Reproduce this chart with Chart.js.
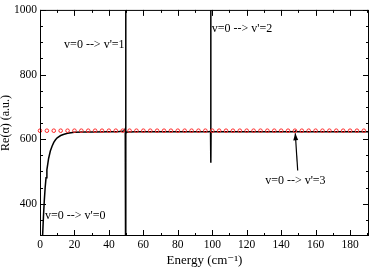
<!DOCTYPE html>
<html>
<head>
<meta charset="utf-8">
<script src="https://cdn.jsdelivr.net/npm/chart.js@4/dist/chart.umd.min.js"></script>
<style>
html,body{margin:0;padding:0;background:#fff;}
#wrap{width:374px;height:268px;}
</style>
</head>
<body>
<div id="wrap"><canvas id="c" width="374" height="268"></canvas></div>
<script>
// ---- data ----
const xTickLabels = [0, 20, 40, 60, 80, 100, 120, 140, 160, 180];
const yTickLabels = [400, 600, 800, 1000];

// computed Re(alpha) curve (black line)
const curveX = [1.2, 1.5, 2.0, 2.5, 3.0, 3.5, 4.0, 5.0, 6.0, 7.0, 8.0, 9.0, 10, 12, 14, 16, 18, 20, 25, 30, 40, 45, 48, 49, 49.5, 49.7, 49.78, 49.8, 49.81, 49.84, 49.9, 50.5, 52, 55, 60, 70, 80, 90, 95, 98, 99.0, 99.15, 99.2, 99.3, 100, 102, 110, 120, 130, 140, 145, 148, 148.5, 149, 152, 160, 170, 180, 190, 191];
const curveY = [250, 300, 360, 410, 450, 480, 505, 540, 563, 578, 590, 598, 604, 611, 615, 618, 620, 621, 622, 622, 623, 623, 624, 626, 632, 660, 700, 1400, 0, 600, 618, 622, 622, 623, 623, 623, 623, 623, 623, 623, 624, 1300, 527, 622, 623, 623, 623, 623, 623, 623, 623, 623, 625, 623, 623, 623, 623, 623, 623, 623];

// reference values (red open circles)
const circleX = [0, 4, 8, 12, 16, 20, 24, 28, 32, 36, 40, 44, 48, 52, 56, 60, 64, 68, 72, 76, 80, 84, 88, 92, 96, 100, 104, 108, 112, 116, 120, 124, 128, 132, 136, 140, 144, 148, 152, 156, 160, 164, 168, 172, 176, 180, 184, 188];
const circleY = [626, 626, 626, 626, 626, 626, 626, 626, 626, 626, 626, 626, 626, 626, 626, 626, 626, 626, 626, 626, 626, 626, 626, 626, 626, 626, 626, 626, 626, 626, 626, 626, 626, 626, 626, 626, 626, 626, 626, 626, 626, 626, 626, 626, 626, 626, 626, 626];

// annotation texts and their anchor (data coordinates)
const noteTexts = ["v=0 --> v'=1", "v=0 --> v'=2", "v=0 --> v'=0", "v=0 --> v'=3"];
const noteX = [14, 99.7, 2.9, 130.7];
const noteY = [891, 942, 361, 470];
// arrow (tail -> head), data coordinates
const arrowFrom = [149.6, 503];
const arrowTo = [148.2, 618];

const SERIF = '"Liberation Serif", "DejaVu Serif", serif';

const framePlugin = {
  id: 'frame',
  afterDatasetsDraw(chart) {
    const {ctx, chartArea: a, scales: {x, y}} = chart;
    ctx.save();
    ctx.strokeStyle = '#000';
    ctx.lineWidth = 1;
    ctx.strokeRect(a.left + 0.5, a.top + 0.5, a.right - a.left - 1, a.bottom - a.top - 1);
    ctx.beginPath();
    for (let v = 0; v <= 190; v += 10) {
      const px = Math.round(x.getPixelForValue(v)) + 0.5;
      const len = (v % 20 === 0) ? 6 : 3;
      ctx.moveTo(px, a.bottom); ctx.lineTo(px, a.bottom - len);
      ctx.moveTo(px, a.top); ctx.lineTo(px, a.top + len);
    }
    for (let v = 350; v <= 1000; v += 50) {
      const py = Math.round(y.getPixelForValue(v)) + 0.5;
      const len = (v % 200 === 0) ? 6 : 3;
      ctx.moveTo(a.left, py); ctx.lineTo(a.left + len, py);
      ctx.moveTo(a.right, py); ctx.lineTo(a.right - len, py);
    }
    ctx.stroke();

    ctx.fillStyle = '#000';
    ctx.font = '12px ' + SERIF;
    ctx.textAlign = 'left';
    ctx.textBaseline = 'middle';
    for (let i = 0; i < noteTexts.length; i++) {
      ctx.fillText(noteTexts[i], x.getPixelForValue(noteX[i]), y.getPixelForValue(noteY[i]));
    }
    const x1 = x.getPixelForValue(arrowFrom[0]), y1 = y.getPixelForValue(arrowFrom[1]);
    const x2 = x.getPixelForValue(arrowTo[0]), y2 = y.getPixelForValue(arrowTo[1]);
    ctx.beginPath();
    ctx.moveTo(x1, y1); ctx.lineTo(x2, y2);
    ctx.lineWidth = 1.2;
    ctx.stroke();
    const ang = Math.atan2(y2 - y1, x2 - x1);
    const hl = 7, hw = 2.5;
    ctx.beginPath();
    ctx.moveTo(x2, y2);
    ctx.lineTo(x2 - hl * Math.cos(ang) + hw * Math.sin(ang), y2 - hl * Math.sin(ang) - hw * Math.cos(ang));
    ctx.lineTo(x2 - hl * Math.cos(ang) - hw * Math.sin(ang), y2 - hl * Math.sin(ang) + hw * Math.cos(ang));
    ctx.closePath();
    ctx.fill();
    ctx.restore();
  }
};

new Chart(document.getElementById('c'), {
  type: 'line',
  data: {
    datasets: [
      {
        label: 'reference',
        data: circleX.map((v, i) => ({x: v, y: circleY[i]})),
        showLine: false,
        pointStyle: 'circle',
        pointRadius: 1.8,
        pointBorderWidth: 1,
        pointBorderColor: 'rgb(255,40,40)',
        pointBackgroundColor: 'rgba(0,0,0,0)',
        clip: false,
        order: 1
      },
      {
        label: 'Re(alpha)',
        data: curveX.map((v, i) => ({x: v, y: curveY[i]})),
        borderColor: '#000',
        borderWidth: 1.5,
        pointRadius: 0,
        tension: 0,
        fill: false,
        clip: 0,
        order: 2
      }
    ]
  },
  options: {
    responsive: false,
    animation: false,
    devicePixelRatio: 1,
    layout: {padding: {top: 5, right: 2, left: 0, bottom: 0}},
    plugins: {legend: {display: false}, tooltip: {enabled: false}},
    scales: {
      x: {
        type: 'linear',
        min: 0, max: 191,
        grid: {display: false, drawTicks: false},
        border: {display: false},
        afterBuildTicks: s => { s.ticks = xTickLabels.map(v => ({value: v})); },
        afterFit: s => { s.height = 32; },
        ticks: {color: '#000', padding: 2, maxRotation: 0, autoSkip: false, font: {family: SERIF, size: 11.5}, callback: v => String(v)},
        title: {display: true, text: 'Energy (cm⁻¹)', color: '#000', padding: {top: 0, bottom: 0}, font: {family: SERIF, size: 13}}
      },
      y: {
        type: 'linear',
        min: 300, max: 1000,
        grid: {display: false, drawTicks: false},
        border: {display: false},
        afterBuildTicks: s => { s.ticks = yTickLabels.map(v => ({value: v})); },
        afterFit: s => { s.width = 40; },
        ticks: {color: '#000', padding: 3, autoSkip: false, font: {family: SERIF, size: 11.5}, callback: v => String(v)},
        title: {display: true, text: 'Re(α) (a.u.)', color: '#000', padding: {top: 0, bottom: 0}, font: {family: SERIF, size: 12, lineHeight: 1}}
      }
    }
  },
  plugins: [framePlugin]
});
</script>
</body>
</html>
